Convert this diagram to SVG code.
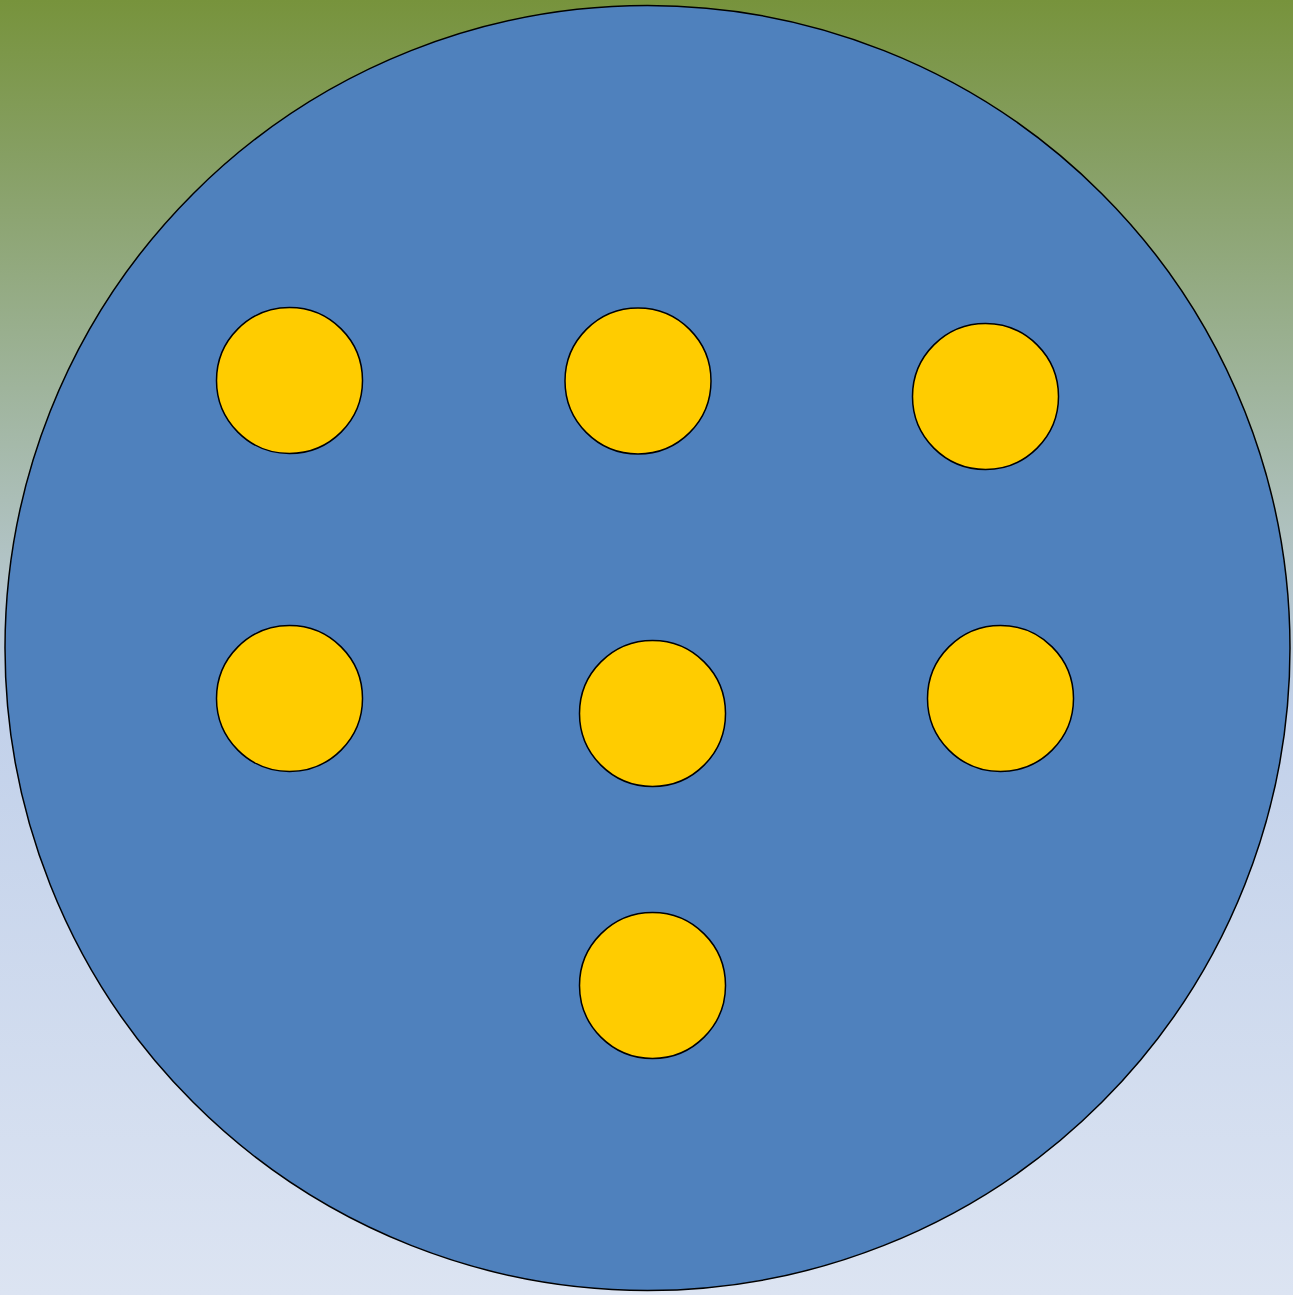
<svg xmlns="http://www.w3.org/2000/svg" width="1293" height="1295" viewBox="0 0 1293 1295">
<defs>
<linearGradient id="bg" x1="0" y1="0" x2="0" y2="1">
<stop offset="0" stop-color="#77933c"/>
<stop offset="0.12" stop-color="#869f63"/>
<stop offset="0.3" stop-color="#9fb49c"/>
<stop offset="0.55" stop-color="#c2d1ea"/>
<stop offset="1" stop-color="#dce4f2"/>
</linearGradient>
<style>
.big{fill:#4f81bd;stroke:#000;stroke-width:1.5}
.dot{fill:#ffcc00;stroke:#000;stroke-width:1.5}
</style>
</defs>
<rect x="0" y="0" width="1293" height="1295" fill="url(#bg)"/>
<g id="plate"><circle class="big" cx="647.5" cy="648" r="642.5"/></g>
<g id="dot1"><circle class="dot" cx="289.5" cy="380.5" r="73"/></g>
<g id="dot2"><circle class="dot" cx="638" cy="381" r="73"/></g>
<g id="dot3"><circle class="dot" cx="985.5" cy="396.5" r="73"/></g>
<g id="dot4"><circle class="dot" cx="289.5" cy="698.5" r="73"/></g>
<g id="dot5"><circle class="dot" cx="652.5" cy="713.5" r="73"/></g>
<g id="dot6"><circle class="dot" cx="1000.5" cy="698.5" r="73"/></g>
<g id="dot7"><circle class="dot" cx="652.5" cy="985.5" r="73"/></g>
<g id="connectors"/>
</svg>
